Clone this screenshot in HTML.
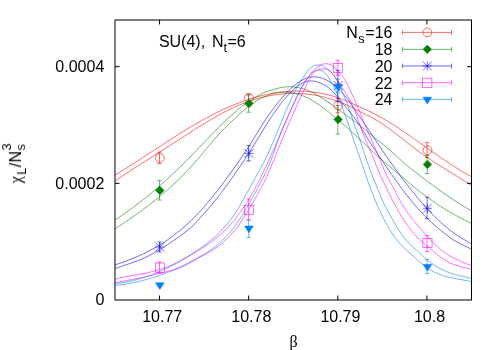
<!DOCTYPE html>
<html><head><meta charset="utf-8"><title>plot</title>
<style>
html,body{margin:0;padding:0;background:#fff;}
svg{display:block;font-family:"Liberation Sans",sans-serif;font-size:16px;fill:#000;}
.cv path{fill:none;stroke-width:0.58;}
.mk *{stroke-width:0.58;}
</style></head><body>
<svg width="500" height="350" viewBox="0 0 500 350">
<rect width="500" height="350" fill="#fff"/>
<defs><clipPath id="cp"><rect x="115.0" y="20.0" width="356.5" height="280.0"/></clipPath></defs>
<g class="cv" clip-path="url(#cp)">
<path d="M115.0,174.99 L116.5,174.09 L118.0,173.19 L119.5,172.28 L121.0,171.37 L122.5,170.45 L124.0,169.52 L125.5,168.59 L127.0,167.65 L128.5,166.71 L130.0,165.77 L131.5,164.82 L133.0,163.86 L134.5,162.90 L136.0,161.94 L137.5,160.98 L139.0,160.01 L140.5,159.04 L142.0,158.07 L143.5,157.10 L145.0,156.12 L146.5,155.15 L148.0,154.17 L149.5,153.19 L151.0,152.21 L152.5,151.23 L154.0,150.25 L155.5,149.27 L157.0,148.29 L158.5,147.31 L160.0,146.33 L161.5,145.35 L163.0,144.38 L164.5,143.40 L166.0,142.43 L167.5,141.46 L169.0,140.49 L170.5,139.53 L172.0,138.57 L173.5,137.61 L175.0,136.65 L176.5,135.70 L178.0,134.75 L179.5,133.81 L181.0,132.87 L182.5,131.94 L184.0,131.01 L185.5,130.09 L187.0,129.17 L188.5,128.26 L190.0,127.35 L191.5,126.45 L193.0,125.56 L194.5,124.68 L196.0,123.80 L197.5,122.93 L199.0,122.07 L200.5,121.21 L202.0,120.37 L203.5,119.53 L205.0,118.70 L206.5,117.88 L208.0,117.07 L209.5,116.27 L211.0,115.48 L212.5,114.70 L214.0,113.93 L215.5,113.17 L217.0,112.42 L218.5,111.69 L220.0,110.96 L221.5,110.25 L223.0,109.54 L224.5,108.85 L226.0,108.17 L227.5,107.50 L229.0,106.85 L230.5,106.20 L232.0,105.57 L233.5,104.95 L235.0,104.34 L236.5,103.74 L238.0,103.16 L239.5,102.59 L241.0,102.03 L242.5,101.48 L244.0,100.95 L245.5,100.43 L247.0,99.92 L248.5,99.42 L250.0,98.94 L251.5,98.47 L253.0,98.02 L254.5,97.57 L256.0,97.15 L257.5,96.73 L259.0,96.33 L260.5,95.94 L262.0,95.57 L263.5,95.21 L265.0,94.87 L266.5,94.54 L268.0,94.22 L269.5,93.92 L271.0,93.63 L272.5,93.36 L274.0,93.10 L275.5,92.86 L277.0,92.63 L278.5,92.42 L280.0,92.22 L281.5,92.04 L283.0,91.87 L284.5,91.72 L286.0,91.59 L287.5,91.47 L289.0,91.36 L290.5,91.28 L292.0,91.21 L293.5,91.15 L295.0,91.12 L296.5,91.10 L298.0,91.09 L299.5,91.11 L301.0,91.14 L302.5,91.19 L304.0,91.25 L305.5,91.34 L307.0,91.44 L308.5,91.56 L310.0,91.69 L311.5,91.85 L313.0,92.02 L314.5,92.22 L316.0,92.43 L317.5,92.66 L319.0,92.91 L320.5,93.18 L322.0,93.46 L323.5,93.77 L325.0,94.10 L326.5,94.45 L328.0,94.81 L329.5,95.20 L331.0,95.60 L332.5,96.03 L334.0,96.48 L335.5,96.95 L337.0,97.43 L338.5,97.94 L340.0,98.47 L341.5,99.02 L343.0,99.59 L344.5,100.18 L346.0,100.79 L347.5,101.41 L349.0,102.04 L350.5,102.69 L352.0,103.35 L353.5,104.01 L355.0,104.69 L356.5,105.37 L358.0,106.06 L359.5,106.74 L361.0,107.43 L362.5,108.13 L364.0,108.82 L365.5,109.53 L367.0,110.23 L368.5,110.95 L370.0,111.67 L371.5,112.40 L373.0,113.15 L374.5,113.90 L376.0,114.67 L377.5,115.46 L379.0,116.26 L380.5,117.08 L382.0,117.91 L383.5,118.76 L385.0,119.63 L386.5,120.52 L388.0,121.42 L389.5,122.34 L391.0,123.27 L392.5,124.21 L394.0,125.16 L395.5,126.13 L397.0,127.11 L398.5,128.10 L400.0,129.09 L401.5,130.10 L403.0,131.12 L404.5,132.14 L406.0,133.17 L407.5,134.20 L409.0,135.24 L410.5,136.29 L412.0,137.34 L413.5,138.40 L415.0,139.45 L416.5,140.51 L418.0,141.58 L419.5,142.64 L421.0,143.70 L422.5,144.77 L424.0,145.84 L425.5,146.90 L427.0,147.97 L428.5,149.03 L430.0,150.09 L431.5,151.15 L433.0,152.21 L434.5,153.26 L436.0,154.31 L437.5,155.35 L439.0,156.39 L440.5,157.42 L442.0,158.45 L443.5,159.47 L445.0,160.49 L446.5,161.49 L448.0,162.49 L449.5,163.48 L451.0,164.46 L452.5,165.43 L454.0,166.40 L455.5,167.35 L457.0,168.29 L458.5,169.21 L460.0,170.13 L461.5,171.03 L463.0,171.92 L464.5,172.80 L466.0,173.66 L467.5,174.51 L469.0,175.34 L470.5,176.16 L471.5,176.69" stroke="#ff0000"/>
<path d="M115.0,180.99 L116.5,179.98 L118.0,178.97 L119.5,177.97 L121.0,176.97 L122.5,175.97 L124.0,174.98 L125.5,173.99 L127.0,173.01 L128.5,172.02 L130.0,171.04 L131.5,170.07 L133.0,169.09 L134.5,168.12 L136.0,167.15 L137.5,166.18 L139.0,165.21 L140.5,164.25 L142.0,163.28 L143.5,162.32 L145.0,161.36 L146.5,160.40 L148.0,159.44 L149.5,158.49 L151.0,157.53 L152.5,156.57 L154.0,155.62 L155.5,154.66 L157.0,153.71 L158.5,152.75 L160.0,151.79 L161.5,150.84 L163.0,149.88 L164.5,148.92 L166.0,147.97 L167.5,147.01 L169.0,146.05 L170.5,145.08 L172.0,144.12 L173.5,143.16 L175.0,142.19 L176.5,141.22 L178.0,140.25 L179.5,139.28 L181.0,138.31 L182.5,137.34 L184.0,136.37 L185.5,135.40 L187.0,134.43 L188.5,133.46 L190.0,132.50 L191.5,131.53 L193.0,130.58 L194.5,129.62 L196.0,128.67 L197.5,127.72 L199.0,126.78 L200.5,125.85 L202.0,124.92 L203.5,123.99 L205.0,123.08 L206.5,122.17 L208.0,121.27 L209.5,120.37 L211.0,119.49 L212.5,118.62 L214.0,117.75 L215.5,116.90 L217.0,116.05 L218.5,115.22 L220.0,114.40 L221.5,113.59 L223.0,112.79 L224.5,112.01 L226.0,111.24 L227.5,110.48 L229.0,109.74 L230.5,109.01 L232.0,108.30 L233.5,107.60 L235.0,106.92 L236.5,106.26 L238.0,105.61 L239.5,104.98 L241.0,104.36 L242.5,103.76 L244.0,103.18 L245.5,102.61 L247.0,102.06 L248.5,101.53 L250.0,101.01 L251.5,100.51 L253.0,100.03 L254.5,99.56 L256.0,99.11 L257.5,98.68 L259.0,98.26 L260.5,97.86 L262.0,97.48 L263.5,97.11 L265.0,96.76 L266.5,96.43 L268.0,96.12 L269.5,95.82 L271.0,95.54 L272.5,95.27 L274.0,95.03 L275.5,94.80 L277.0,94.59 L278.5,94.40 L280.0,94.22 L281.5,94.06 L283.0,93.92 L284.5,93.79 L286.0,93.69 L287.5,93.60 L289.0,93.53 L290.5,93.48 L292.0,93.44 L293.5,93.43 L295.0,93.43 L296.5,93.44 L298.0,93.48 L299.5,93.54 L301.0,93.61 L302.5,93.70 L304.0,93.81 L305.5,93.94 L307.0,94.09 L308.5,94.25 L310.0,94.44 L311.5,94.64 L313.0,94.87 L314.5,95.11 L316.0,95.37 L317.5,95.65 L319.0,95.95 L320.5,96.26 L322.0,96.60 L323.5,96.96 L325.0,97.34 L326.5,97.73 L328.0,98.15 L329.5,98.58 L331.0,99.04 L332.5,99.51 L334.0,100.01 L335.5,100.52 L337.0,101.06 L338.5,101.62 L340.0,102.19 L341.5,102.79 L343.0,103.41 L344.5,104.04 L346.0,104.70 L347.5,105.38 L349.0,106.08 L350.5,106.80 L352.0,107.54 L353.5,108.30 L355.0,109.08 L356.5,109.86 L358.0,110.64 L359.5,111.41 L361.0,112.16 L362.5,112.89 L364.0,113.62 L365.5,114.35 L367.0,115.08 L368.5,115.82 L370.0,116.57 L371.5,117.35 L373.0,118.15 L374.5,118.98 L376.0,119.83 L377.5,120.71 L379.0,121.63 L380.5,122.57 L382.0,123.54 L383.5,124.55 L385.0,125.58 L386.5,126.63 L388.0,127.71 L389.5,128.81 L391.0,129.93 L392.5,131.06 L394.0,132.21 L395.5,133.37 L397.0,134.54 L398.5,135.72 L400.0,136.91 L401.5,138.10 L403.0,139.29 L404.5,140.48 L406.0,141.67 L407.5,142.85 L409.0,144.03 L410.5,145.20 L412.0,146.35 L413.5,147.50 L415.0,148.64 L416.5,149.77 L418.0,150.88 L419.5,151.99 L421.0,153.08 L422.5,154.16 L424.0,155.23 L425.5,156.29 L427.0,157.33 L428.5,158.36 L430.0,159.38 L431.5,160.39 L433.0,161.38 L434.5,162.36 L436.0,163.33 L437.5,164.28 L439.0,165.22 L440.5,166.15 L442.0,167.08 L443.5,167.99 L445.0,168.90 L446.5,169.81 L448.0,170.72 L449.5,171.62 L451.0,172.52 L452.5,173.43 L454.0,174.34 L455.5,175.25 L457.0,176.17 L458.5,177.10 L460.0,178.04 L461.5,178.99 L463.0,179.95 L464.5,180.92 L466.0,181.91 L467.5,182.92 L469.0,183.94 L470.5,184.98 L471.5,185.69" stroke="#ff0000"/>
<path d="M115.0,220.00 L116.5,219.03 L118.0,218.05 L119.5,217.05 L121.0,216.04 L122.5,215.02 L124.0,213.98 L125.5,212.94 L127.0,211.88 L128.5,210.81 L130.0,209.72 L131.5,208.63 L133.0,207.52 L134.5,206.40 L136.0,205.27 L137.5,204.13 L139.0,202.97 L140.5,201.80 L142.0,200.63 L143.5,199.44 L145.0,198.23 L146.5,197.02 L148.0,195.80 L149.5,194.56 L151.0,193.31 L152.5,192.05 L154.0,190.78 L155.5,189.50 L157.0,188.21 L158.5,186.90 L160.0,185.59 L161.5,184.26 L163.0,182.92 L164.5,181.57 L166.0,180.21 L167.5,178.84 L169.0,177.46 L170.5,176.07 L172.0,174.67 L173.5,173.25 L175.0,171.83 L176.5,170.39 L178.0,168.95 L179.5,167.49 L181.0,166.03 L182.5,164.55 L184.0,163.06 L185.5,161.56 L187.0,160.06 L188.5,158.54 L190.0,157.01 L191.5,155.47 L193.0,153.93 L194.5,152.38 L196.0,150.83 L197.5,149.27 L199.0,147.71 L200.5,146.15 L202.0,144.59 L203.5,143.03 L205.0,141.46 L206.5,139.91 L208.0,138.35 L209.5,136.80 L211.0,135.25 L212.5,133.72 L214.0,132.19 L215.5,130.66 L217.0,129.15 L218.5,127.65 L220.0,126.16 L221.5,124.68 L223.0,123.22 L224.5,121.77 L226.0,120.34 L227.5,118.93 L229.0,117.53 L230.5,116.15 L232.0,114.80 L233.5,113.46 L235.0,112.15 L236.5,110.86 L238.0,109.59 L239.5,108.35 L241.0,107.14 L242.5,105.95 L244.0,104.80 L245.5,103.67 L247.0,102.58 L248.5,101.51 L250.0,100.48 L251.5,99.49 L253.0,98.53 L254.5,97.61 L256.0,96.72 L257.5,95.88 L259.0,95.08 L260.5,94.32 L262.0,93.61 L263.5,92.94 L265.0,92.32 L266.5,91.75 L268.0,91.22 L269.5,90.72 L271.0,90.24 L272.5,89.79 L274.0,89.35 L275.5,88.92 L277.0,88.49 L278.5,88.09 L280.0,87.73 L281.5,87.43 L283.0,87.19 L284.5,87.00 L286.0,86.87 L287.5,86.80 L289.0,86.77 L290.5,86.80 L292.0,86.87 L293.5,86.98 L295.0,87.14 L296.5,87.34 L298.0,87.58 L299.5,87.87 L301.0,88.20 L302.5,88.58 L304.0,89.02 L305.5,89.51 L307.0,90.06 L308.5,90.66 L310.0,91.31 L311.5,92.00 L313.0,92.74 L314.5,93.52 L316.0,94.35 L317.5,95.20 L319.0,96.09 L320.5,97.02 L322.0,97.97 L323.5,98.95 L325.0,99.95 L326.5,100.97 L328.0,102.01 L329.5,103.06 L331.0,104.13 L332.5,105.21 L334.0,106.30 L335.5,107.39 L337.0,108.49 L338.5,109.58 L340.0,110.67 L341.5,111.76 L343.0,112.85 L344.5,113.93 L346.0,115.01 L347.5,116.10 L349.0,117.19 L350.5,118.29 L352.0,119.40 L353.5,120.52 L355.0,121.65 L356.5,122.79 L358.0,123.95 L359.5,125.13 L361.0,126.33 L362.5,127.55 L364.0,128.79 L365.5,130.04 L367.0,131.29 L368.5,132.55 L370.0,133.81 L371.5,135.07 L373.0,136.33 L374.5,137.58 L376.0,138.81 L377.5,140.03 L379.0,141.24 L380.5,142.43 L382.0,143.62 L383.5,144.82 L385.0,146.03 L386.5,147.26 L388.0,148.51 L389.5,149.79 L391.0,151.11 L392.5,152.46 L394.0,153.83 L395.5,155.22 L397.0,156.61 L398.5,157.99 L400.0,159.36 L401.5,160.70 L403.0,162.01 L404.5,163.29 L406.0,164.56 L407.5,165.80 L409.0,167.03 L410.5,168.23 L412.0,169.43 L413.5,170.61 L415.0,171.77 L416.5,172.93 L418.0,174.09 L419.5,175.23 L421.0,176.38 L422.5,177.52 L424.0,178.66 L425.5,179.79 L427.0,180.92 L428.5,182.04 L430.0,183.16 L431.5,184.28 L433.0,185.39 L434.5,186.49 L436.0,187.59 L437.5,188.68 L439.0,189.76 L440.5,190.84 L442.0,191.91 L443.5,192.97 L445.0,194.02 L446.5,195.06 L448.0,196.10 L449.5,197.12 L451.0,198.13 L452.5,199.14 L454.0,200.13 L455.5,201.11 L457.0,202.08 L458.5,203.04 L460.0,203.99 L461.5,204.92 L463.0,205.84 L464.5,206.75 L466.0,207.64 L467.5,208.52 L469.0,209.39 L470.5,210.24 L471.5,210.80" stroke="#008000"/>
<path d="M115.0,228.91 L116.5,227.91 L118.0,226.91 L119.5,225.90 L121.0,224.89 L122.5,223.88 L124.0,222.86 L125.5,221.84 L127.0,220.82 L128.5,219.79 L130.0,218.75 L131.5,217.71 L133.0,216.67 L134.5,215.61 L136.0,214.55 L137.5,213.48 L139.0,212.41 L140.5,211.32 L142.0,210.23 L143.5,209.12 L145.0,208.01 L146.5,206.89 L148.0,205.76 L149.5,204.61 L151.0,203.45 L152.5,202.29 L154.0,201.10 L155.5,199.91 L157.0,198.70 L158.5,197.48 L160.0,196.25 L161.5,195.00 L163.0,193.73 L164.5,192.45 L166.0,191.15 L167.5,189.84 L169.0,188.51 L170.5,187.16 L172.0,185.80 L173.5,184.41 L175.0,183.01 L176.5,181.59 L178.0,180.15 L179.5,178.69 L181.0,177.21 L182.5,175.70 L184.0,174.18 L185.5,172.64 L187.0,171.07 L188.5,169.48 L190.0,167.86 L191.5,166.23 L193.0,164.57 L194.5,162.88 L196.0,161.17 L197.5,159.44 L199.0,157.68 L200.5,155.90 L202.0,154.10 L203.5,152.30 L205.0,150.49 L206.5,148.68 L208.0,146.88 L209.5,145.08 L211.0,143.30 L212.5,141.54 L214.0,139.80 L215.5,138.09 L217.0,136.41 L218.5,134.76 L220.0,133.13 L221.5,131.54 L223.0,129.97 L224.5,128.42 L226.0,126.90 L227.5,125.39 L229.0,123.91 L230.5,122.45 L232.0,121.01 L233.5,119.58 L235.0,118.17 L236.5,116.78 L238.0,115.41 L239.5,114.06 L241.0,112.74 L242.5,111.44 L244.0,110.17 L245.5,108.93 L247.0,107.72 L248.5,106.54 L250.0,105.40 L251.5,104.30 L253.0,103.24 L254.5,102.21 L256.0,101.23 L257.5,100.30 L259.0,99.41 L260.5,98.57 L262.0,97.78 L263.5,97.04 L265.0,96.35 L266.5,95.72 L268.0,95.14 L269.5,94.61 L271.0,94.14 L272.5,93.71 L274.0,93.34 L275.5,93.02 L277.0,92.75 L278.5,92.53 L280.0,92.36 L281.5,92.25 L283.0,92.18 L284.5,92.16 L286.0,92.19 L287.5,92.27 L289.0,92.40 L290.5,92.57 L292.0,92.80 L293.5,93.07 L295.0,93.39 L296.5,93.76 L298.0,94.18 L299.5,94.64 L301.0,95.15 L302.5,95.70 L304.0,96.30 L305.5,96.95 L307.0,97.64 L308.5,98.38 L310.0,99.16 L311.5,99.99 L313.0,100.86 L314.5,101.77 L316.0,102.72 L317.5,103.72 L319.0,104.74 L320.5,105.80 L322.0,106.90 L323.5,108.01 L325.0,109.16 L326.5,110.32 L328.0,111.51 L329.5,112.70 L331.0,113.91 L332.5,115.13 L334.0,116.37 L335.5,117.61 L337.0,118.86 L338.5,120.13 L340.0,121.41 L341.5,122.70 L343.0,124.00 L344.5,125.31 L346.0,126.64 L347.5,127.98 L349.0,129.33 L350.5,130.69 L352.0,132.07 L353.5,133.46 L355.0,134.86 L356.5,136.26 L358.0,137.68 L359.5,139.09 L361.0,140.52 L362.5,141.94 L364.0,143.36 L365.5,144.79 L367.0,146.21 L368.5,147.63 L370.0,149.04 L371.5,150.44 L373.0,151.84 L374.5,153.23 L376.0,154.60 L377.5,155.97 L379.0,157.32 L380.5,158.65 L382.0,159.97 L383.5,161.27 L385.0,162.57 L386.5,163.85 L388.0,165.12 L389.5,166.38 L391.0,167.64 L392.5,168.89 L394.0,170.14 L395.5,171.39 L397.0,172.65 L398.5,173.90 L400.0,175.16 L401.5,176.42 L403.0,177.69 L404.5,178.96 L406.0,180.23 L407.5,181.49 L409.0,182.75 L410.5,184.01 L412.0,185.26 L413.5,186.50 L415.0,187.73 L416.5,188.95 L418.0,190.16 L419.5,191.35 L421.0,192.52 L422.5,193.68 L424.0,194.83 L425.5,195.96 L427.0,197.07 L428.5,198.16 L430.0,199.24 L431.5,200.31 L433.0,201.36 L434.5,202.39 L436.0,203.41 L437.5,204.41 L439.0,205.40 L440.5,206.37 L442.0,207.32 L443.5,208.27 L445.0,209.19 L446.5,210.11 L448.0,211.01 L449.5,211.89 L451.0,212.76 L452.5,213.61 L454.0,214.46 L455.5,215.28 L457.0,216.10 L458.5,216.90 L460.0,217.68 L461.5,218.46 L463.0,219.22 L464.5,219.96 L466.0,220.70 L467.5,221.42 L469.0,222.12 L470.5,222.82 L471.5,223.27" stroke="#008000"/>
<path d="M115.0,264.91 L116.5,264.42 L118.0,263.92 L119.5,263.41 L121.0,262.89 L122.5,262.36 L124.0,261.83 L125.5,261.28 L127.0,260.72 L128.5,260.15 L130.0,259.57 L131.5,258.97 L133.0,258.37 L134.5,257.74 L136.0,257.11 L137.5,256.46 L139.0,255.80 L140.5,255.12 L142.0,254.43 L143.5,253.72 L145.0,252.99 L146.5,252.25 L148.0,251.49 L149.5,250.71 L151.0,249.92 L152.5,249.11 L154.0,248.27 L155.5,247.42 L157.0,246.55 L158.5,245.66 L160.0,244.75 L161.5,243.81 L163.0,242.86 L164.5,241.88 L166.0,240.88 L167.5,239.86 L169.0,238.81 L170.5,237.75 L172.0,236.65 L173.5,235.53 L175.0,234.39 L176.5,233.22 L178.0,232.03 L179.5,230.81 L181.0,229.56 L182.5,228.29 L184.0,226.99 L185.5,225.66 L187.0,224.31 L188.5,222.93 L190.0,221.52 L191.5,220.08 L193.0,218.61 L194.5,217.12 L196.0,215.59 L197.5,214.03 L199.0,212.45 L200.5,210.83 L202.0,209.19 L203.5,207.51 L205.0,205.80 L206.5,204.07 L208.0,202.30 L209.5,200.50 L211.0,198.67 L212.5,196.82 L214.0,194.95 L215.5,193.05 L217.0,191.13 L218.5,189.19 L220.0,187.22 L221.5,185.24 L223.0,183.25 L224.5,181.23 L226.0,179.21 L227.5,177.17 L229.0,175.12 L230.5,173.05 L232.0,170.98 L233.5,168.89 L235.0,166.79 L236.5,164.67 L238.0,162.53 L239.5,160.38 L241.0,158.20 L242.5,156.00 L244.0,153.77 L245.5,151.52 L247.0,149.25 L248.5,146.94 L250.0,144.60 L251.5,142.23 L253.0,139.83 L254.5,137.40 L256.0,134.94 L257.5,132.47 L259.0,130.01 L260.5,127.55 L262.0,125.13 L263.5,122.74 L265.0,120.39 L266.5,118.11 L268.0,115.91 L269.5,113.78 L271.0,111.73 L272.5,109.73 L274.0,107.78 L275.5,105.85 L277.0,103.96 L278.5,102.10 L280.0,100.29 L281.5,98.51 L283.0,96.78 L284.5,95.10 L286.0,93.47 L287.5,91.89 L289.0,90.37 L290.5,88.92 L292.0,87.53 L293.5,86.21 L295.0,84.97 L296.5,83.79 L298.0,82.70 L299.5,81.69 L301.0,80.77 L302.5,79.93 L304.0,79.19 L305.5,78.55 L307.0,78.00 L308.5,77.55 L310.0,77.21 L311.5,76.98 L313.0,76.84 L314.5,76.81 L316.0,76.88 L317.5,77.04 L319.0,77.30 L320.5,77.66 L322.0,78.11 L323.5,78.65 L325.0,79.28 L326.5,80.01 L328.0,80.82 L329.5,81.72 L331.0,82.71 L332.5,83.79 L334.0,84.94 L335.5,86.18 L337.0,87.50 L338.5,88.91 L340.0,90.39 L341.5,91.94 L343.0,93.58 L344.5,95.29 L346.0,97.08 L347.5,99.01 L349.0,101.11 L350.5,103.38 L352.0,105.69 L353.5,107.90 L355.0,109.98 L356.5,112.03 L358.0,114.12 L359.5,116.25 L361.0,118.41 L362.5,120.60 L364.0,122.82 L365.5,125.06 L367.0,127.32 L368.5,129.59 L370.0,131.87 L371.5,134.15 L373.0,136.43 L374.5,138.71 L376.0,140.98 L377.5,143.24 L379.0,145.48 L380.5,147.71 L382.0,149.93 L383.5,152.14 L385.0,154.33 L386.5,156.50 L388.0,158.66 L389.5,160.81 L391.0,162.94 L392.5,165.06 L394.0,167.16 L395.5,169.24 L397.0,171.31 L398.5,173.35 L400.0,175.39 L401.5,177.40 L403.0,179.40 L404.5,181.37 L406.0,183.33 L407.5,185.27 L409.0,187.19 L410.5,189.09 L412.0,190.96 L413.5,192.82 L415.0,194.66 L416.5,196.47 L418.0,198.27 L419.5,200.04 L421.0,201.79 L422.5,203.51 L424.0,205.22 L425.5,206.90 L427.0,208.55 L428.5,210.18 L430.0,211.79 L431.5,213.36 L433.0,214.91 L434.5,216.44 L436.0,217.93 L437.5,219.39 L439.0,220.82 L440.5,222.21 L442.0,223.58 L443.5,224.91 L445.0,226.20 L446.5,227.46 L448.0,228.68 L449.5,229.87 L451.0,231.01 L452.5,232.11 L454.0,233.18 L455.5,234.20 L457.0,235.19 L458.5,236.14 L460.0,237.07 L461.5,237.98 L463.0,238.89 L464.5,239.79 L466.0,240.71 L467.5,241.64 L469.0,242.60 L470.5,243.59 L471.5,244.28" stroke="#0000ff"/>
<path d="M115.0,268.46 L116.5,267.97 L118.0,267.48 L119.5,266.99 L121.0,266.50 L122.5,266.01 L124.0,265.51 L125.5,265.01 L127.0,264.51 L128.5,264.00 L130.0,263.48 L131.5,262.95 L133.0,262.41 L134.5,261.86 L136.0,261.30 L137.5,260.72 L139.0,260.12 L140.5,259.51 L142.0,258.88 L143.5,258.23 L145.0,257.56 L146.5,256.86 L148.0,256.15 L149.5,255.40 L151.0,254.63 L152.5,253.84 L154.0,253.02 L155.5,252.18 L157.0,251.31 L158.5,250.42 L160.0,249.51 L161.5,248.59 L163.0,247.64 L164.5,246.68 L166.0,245.70 L167.5,244.71 L169.0,243.70 L170.5,242.69 L172.0,241.66 L173.5,240.62 L175.0,239.57 L176.5,238.52 L178.0,237.45 L179.5,236.39 L181.0,235.32 L182.5,234.23 L184.0,233.13 L185.5,232.00 L187.0,230.82 L188.5,229.60 L190.0,228.32 L191.5,226.97 L193.0,225.54 L194.5,224.02 L196.0,222.42 L197.5,220.77 L199.0,219.09 L200.5,217.40 L202.0,215.72 L203.5,214.03 L205.0,212.35 L206.5,210.65 L208.0,208.95 L209.5,207.23 L211.0,205.49 L212.5,203.73 L214.0,201.94 L215.5,200.12 L217.0,198.27 L218.5,196.38 L220.0,194.44 L221.5,192.46 L223.0,190.45 L224.5,188.42 L226.0,186.38 L227.5,184.32 L229.0,182.25 L230.5,180.17 L232.0,178.07 L233.5,175.95 L235.0,173.82 L236.5,171.66 L238.0,169.49 L239.5,167.30 L241.0,165.08 L242.5,162.85 L244.0,160.59 L245.5,158.31 L247.0,156.00 L248.5,153.67 L250.0,151.31 L251.5,148.92 L253.0,146.52 L254.5,144.09 L256.0,141.66 L257.5,139.21 L259.0,136.76 L260.5,134.32 L262.0,131.88 L263.5,129.44 L265.0,127.03 L266.5,124.63 L268.0,122.26 L269.5,119.92 L271.0,117.61 L272.5,115.34 L274.0,113.12 L275.5,110.94 L277.0,108.82 L278.5,106.77 L280.0,104.77 L281.5,102.85 L283.0,101.00 L284.5,99.21 L286.0,97.47 L287.5,95.79 L289.0,94.16 L290.5,92.57 L292.0,91.05 L293.5,89.60 L295.0,88.23 L296.5,86.96 L298.0,85.79 L299.5,84.73 L301.0,83.81 L302.5,83.01 L304.0,82.33 L305.5,81.79 L307.0,81.38 L308.5,81.09 L310.0,80.94 L311.5,80.91 L313.0,81.01 L314.5,81.23 L316.0,81.57 L317.5,82.00 L319.0,82.53 L320.5,83.12 L322.0,83.78 L323.5,84.52 L325.0,85.36 L326.5,86.30 L328.0,87.37 L329.5,88.57 L331.0,89.90 L332.5,91.34 L334.0,92.89 L335.5,94.52 L337.0,96.22 L338.5,97.98 L340.0,99.78 L341.5,101.62 L343.0,103.49 L344.5,105.37 L346.0,107.25 L347.5,109.14 L349.0,111.01 L350.5,112.86 L352.0,114.71 L353.5,116.59 L355.0,118.54 L356.5,120.58 L358.0,122.75 L359.5,125.04 L361.0,127.43 L362.5,129.89 L364.0,132.39 L365.5,134.91 L367.0,137.41 L368.5,139.87 L370.0,142.26 L371.5,144.61 L373.0,146.91 L374.5,149.18 L376.0,151.45 L377.5,153.71 L379.0,155.96 L380.5,158.20 L382.0,160.44 L383.5,162.66 L385.0,164.87 L386.5,167.07 L388.0,169.26 L389.5,171.43 L391.0,173.59 L392.5,175.73 L394.0,177.86 L395.5,179.96 L397.0,182.05 L398.5,184.11 L400.0,186.16 L401.5,188.18 L403.0,190.18 L404.5,192.15 L406.0,194.10 L407.5,196.02 L409.0,197.92 L410.5,199.78 L412.0,201.62 L413.5,203.42 L415.0,205.20 L416.5,206.94 L418.0,208.65 L419.5,210.32 L421.0,211.96 L422.5,213.56 L424.0,215.13 L425.5,216.65 L427.0,218.14 L428.5,219.59 L430.0,221.01 L431.5,222.39 L433.0,223.74 L434.5,225.07 L436.0,226.37 L437.5,227.64 L439.0,228.89 L440.5,230.12 L442.0,231.33 L443.5,232.53 L445.0,233.71 L446.5,234.87 L448.0,236.02 L449.5,237.14 L451.0,238.22 L452.5,239.26 L454.0,240.24 L455.5,241.17 L457.0,242.04 L458.5,242.86 L460.0,243.63 L461.5,244.38 L463.0,245.10 L464.5,245.82 L466.0,246.53 L467.5,247.25 L469.0,247.99 L470.5,248.75 L471.5,249.28" stroke="#0000ff"/>
<path d="M115.0,283.49 L116.5,283.34 L118.0,283.18 L119.5,282.99 L121.0,282.79 L122.5,282.57 L124.0,282.33 L125.5,282.07 L127.0,281.80 L128.5,281.51 L130.0,281.20 L131.5,280.87 L133.0,280.52 L134.5,280.16 L136.0,279.78 L137.5,279.39 L139.0,278.97 L140.5,278.54 L142.0,278.09 L143.5,277.63 L145.0,277.14 L146.5,276.65 L148.0,276.13 L149.5,275.60 L151.0,275.05 L152.5,274.48 L154.0,273.90 L155.5,273.31 L157.0,272.69 L158.5,272.06 L160.0,271.42 L161.5,270.75 L163.0,270.08 L164.5,269.38 L166.0,268.67 L167.5,267.95 L169.0,267.21 L170.5,266.45 L172.0,265.68 L173.5,264.90 L175.0,264.10 L176.5,263.28 L178.0,262.45 L179.5,261.60 L181.0,260.74 L182.5,259.87 L184.0,258.98 L185.5,258.07 L187.0,257.16 L188.5,256.22 L190.0,255.27 L191.5,254.31 L193.0,253.34 L194.5,252.35 L196.0,251.34 L197.5,250.32 L199.0,249.29 L200.5,248.23 L202.0,247.15 L203.5,246.05 L205.0,244.92 L206.5,243.77 L208.0,242.58 L209.5,241.36 L211.0,240.11 L212.5,238.82 L214.0,237.49 L215.5,236.12 L217.0,234.71 L218.5,233.25 L220.0,231.75 L221.5,230.20 L223.0,228.59 L224.5,226.93 L226.0,225.22 L227.5,223.44 L229.0,221.60 L230.5,219.69 L232.0,217.69 L233.5,215.59 L235.0,213.39 L236.5,211.08 L238.0,208.67 L239.5,206.17 L241.0,203.60 L242.5,200.97 L244.0,198.28 L245.5,195.56 L247.0,192.81 L248.5,190.05 L250.0,187.29 L251.5,184.54 L253.0,181.82 L254.5,179.13 L256.0,176.48 L257.5,173.85 L259.0,171.19 L260.5,168.50 L262.0,165.75 L263.5,162.91 L265.0,159.96 L266.5,156.87 L268.0,153.66 L269.5,150.34 L271.0,146.92 L272.5,143.43 L274.0,139.87 L275.5,136.26 L277.0,132.61 L278.5,128.94 L280.0,125.27 L281.5,121.60 L283.0,117.95 L284.5,114.35 L286.0,110.79 L287.5,107.30 L289.0,103.90 L290.5,100.59 L292.0,97.38 L293.5,94.30 L295.0,91.34 L296.5,88.49 L298.0,85.75 L299.5,83.14 L301.0,80.63 L302.5,78.24 L304.0,75.96 L305.5,73.80 L307.0,71.79 L308.5,70.00 L310.0,68.45 L311.5,67.19 L313.0,66.24 L314.5,65.56 L316.0,65.15 L317.5,64.98 L319.0,65.05 L320.5,65.33 L322.0,65.82 L323.5,66.48 L325.0,67.31 L326.5,68.29 L328.0,69.41 L329.5,70.65 L331.0,72.06 L332.5,73.71 L334.0,75.64 L335.5,77.92 L337.0,80.57 L338.5,83.54 L340.0,86.76 L341.5,90.16 L343.0,93.67 L344.5,97.21 L346.0,100.80 L347.5,104.52 L349.0,108.50 L350.5,112.85 L352.0,117.55 L353.5,122.18 L355.0,126.45 L356.5,130.52 L358.0,134.53 L359.5,138.65 L361.0,143.03 L362.5,147.63 L364.0,152.29 L365.5,156.86 L367.0,161.24 L368.5,165.45 L370.0,169.52 L371.5,173.46 L373.0,177.32 L374.5,181.10 L376.0,184.85 L377.5,188.58 L379.0,192.29 L380.5,195.91 L382.0,199.39 L383.5,202.67 L385.0,205.76 L386.5,208.69 L388.0,211.50 L389.5,214.21 L391.0,216.85 L392.5,219.46 L394.0,222.05 L395.5,224.62 L397.0,227.13 L398.5,229.56 L400.0,231.90 L401.5,234.11 L403.0,236.18 L404.5,238.11 L406.0,239.92 L407.5,241.61 L409.0,243.21 L410.5,244.72 L412.0,246.16 L413.5,247.55 L415.0,248.91 L416.5,250.24 L418.0,251.56 L419.5,252.89 L421.0,254.23 L422.5,255.59 L424.0,256.95 L425.5,258.28 L427.0,259.57 L428.5,260.81 L430.0,261.99 L431.5,263.11 L433.0,264.18 L434.5,265.19 L436.0,266.16 L437.5,267.07 L439.0,267.94 L440.5,268.75 L442.0,269.53 L443.5,270.26 L445.0,270.94 L446.5,271.59 L448.0,272.20 L449.5,272.76 L451.0,273.30 L452.5,273.79 L454.0,274.26 L455.5,274.69 L457.0,275.09 L458.5,275.47 L460.0,275.83 L461.5,276.18 L463.0,276.52 L464.5,276.87 L466.0,277.21 L467.5,277.57 L469.0,277.94 L470.5,278.33 L471.5,278.60" stroke="#0080ff"/>
<path d="M115.0,285.55 L116.5,285.36 L118.0,285.16 L119.5,284.95 L121.0,284.74 L122.5,284.51 L124.0,284.28 L125.5,284.03 L127.0,283.78 L128.5,283.51 L130.0,283.24 L131.5,282.96 L133.0,282.66 L134.5,282.36 L136.0,282.04 L137.5,281.71 L139.0,281.38 L140.5,281.02 L142.0,280.66 L143.5,280.29 L145.0,279.90 L146.5,279.50 L148.0,279.09 L149.5,278.67 L151.0,278.23 L152.5,277.78 L154.0,277.31 L155.5,276.83 L157.0,276.34 L158.5,275.83 L160.0,275.31 L161.5,274.78 L163.0,274.23 L164.5,273.66 L166.0,273.08 L167.5,272.48 L169.0,271.87 L170.5,271.25 L172.0,270.61 L173.5,269.95 L175.0,269.29 L176.5,268.61 L178.0,267.92 L179.5,267.21 L181.0,266.50 L182.5,265.77 L184.0,265.03 L185.5,264.29 L187.0,263.53 L188.5,262.76 L190.0,261.98 L191.5,261.20 L193.0,260.40 L194.5,259.60 L196.0,258.79 L197.5,257.97 L199.0,257.14 L200.5,256.29 L202.0,255.43 L203.5,254.54 L205.0,253.63 L206.5,252.69 L208.0,251.72 L209.5,250.72 L211.0,249.68 L212.5,248.61 L214.0,247.49 L215.5,246.33 L217.0,245.12 L218.5,243.86 L220.0,242.54 L221.5,241.17 L223.0,239.75 L224.5,238.26 L226.0,236.70 L227.5,235.08 L229.0,233.38 L230.5,231.62 L232.0,229.77 L233.5,227.85 L235.0,225.85 L236.5,223.77 L238.0,221.63 L239.5,219.42 L241.0,217.14 L242.5,214.80 L244.0,212.40 L245.5,209.94 L247.0,207.43 L248.5,204.86 L250.0,202.25 L251.5,199.59 L253.0,196.89 L254.5,194.15 L256.0,191.37 L257.5,188.56 L259.0,185.72 L260.5,182.84 L262.0,179.93 L263.5,176.95 L265.0,173.88 L266.5,170.69 L268.0,167.34 L269.5,163.81 L271.0,160.08 L272.5,156.12 L274.0,151.99 L275.5,147.76 L277.0,143.50 L278.5,139.29 L280.0,135.18 L281.5,131.25 L283.0,127.55 L284.5,124.08 L286.0,120.76 L287.5,117.52 L289.0,114.28 L290.5,110.97 L292.0,107.60 L293.5,104.21 L295.0,100.85 L296.5,97.56 L298.0,94.40 L299.5,91.36 L301.0,88.47 L302.5,85.73 L304.0,83.17 L305.5,80.79 L307.0,78.61 L308.5,76.64 L310.0,74.89 L311.5,73.38 L313.0,72.13 L314.5,71.14 L316.0,70.43 L317.5,70.01 L319.0,69.92 L320.5,70.15 L322.0,70.72 L323.5,71.66 L325.0,72.98 L326.5,74.69 L328.0,76.80 L329.5,79.29 L331.0,81.89 L332.5,84.34 L334.0,86.90 L335.5,89.87 L337.0,93.25 L338.5,96.97 L340.0,100.92 L341.5,105.03 L343.0,109.20 L344.5,113.36 L346.0,117.51 L347.5,121.71 L349.0,126.01 L350.5,130.44 L352.0,135.06 L353.5,139.81 L355.0,144.27 L356.5,148.48 L358.0,152.57 L359.5,156.69 L361.0,160.99 L362.5,165.44 L364.0,169.93 L365.5,174.36 L367.0,178.71 L368.5,182.96 L370.0,187.08 L371.5,191.07 L373.0,194.93 L374.5,198.66 L376.0,202.26 L377.5,205.74 L379.0,209.09 L380.5,212.32 L382.0,215.43 L383.5,218.42 L385.0,221.30 L386.5,224.06 L388.0,226.70 L389.5,229.24 L391.0,231.66 L392.5,233.96 L394.0,236.15 L395.5,238.23 L397.0,240.19 L398.5,242.03 L400.0,243.76 L401.5,245.38 L403.0,246.91 L404.5,248.36 L406.0,249.75 L407.5,251.10 L409.0,252.43 L410.5,253.76 L412.0,255.10 L413.5,256.45 L415.0,257.79 L416.5,259.12 L418.0,260.43 L419.5,261.73 L421.0,262.99 L422.5,264.23 L424.0,265.42 L425.5,266.56 L427.0,267.65 L428.5,268.68 L430.0,269.65 L431.5,270.54 L433.0,271.38 L434.5,272.16 L436.0,272.88 L437.5,273.54 L439.0,274.16 L440.5,274.73 L442.0,275.26 L443.5,275.75 L445.0,276.20 L446.5,276.62 L448.0,277.01 L449.5,277.37 L451.0,277.71 L452.5,278.03 L454.0,278.33 L455.5,278.62 L457.0,278.89 L458.5,279.16 L460.0,279.43 L461.5,279.69 L463.0,279.96 L464.5,280.24 L466.0,280.52 L467.5,280.81 L469.0,281.13 L470.5,281.46 L471.5,281.69" stroke="#0080ff"/>
<path d="M115.0,279.29 L116.5,278.89 L118.0,278.50 L119.5,278.13 L121.0,277.78 L122.5,277.45 L124.0,277.12 L125.5,276.81 L127.0,276.51 L128.5,276.22 L130.0,275.94 L131.5,275.66 L133.0,275.39 L134.5,275.12 L136.0,274.85 L137.5,274.58 L139.0,274.31 L140.5,274.04 L142.0,273.76 L143.5,273.48 L145.0,273.19 L146.5,272.89 L148.0,272.57 L149.5,272.25 L151.0,271.91 L152.5,271.56 L154.0,271.19 L155.5,270.80 L157.0,270.39 L158.5,269.97 L160.0,269.51 L161.5,269.04 L163.0,268.53 L164.5,268.00 L166.0,267.45 L167.5,266.86 L169.0,266.24 L170.5,265.60 L172.0,264.94 L173.5,264.25 L175.0,263.53 L176.5,262.80 L178.0,262.05 L179.5,261.27 L181.0,260.48 L182.5,259.67 L184.0,258.85 L185.5,258.01 L187.0,257.16 L188.5,256.30 L190.0,255.43 L191.5,254.54 L193.0,253.65 L194.5,252.76 L196.0,251.85 L197.5,250.94 L199.0,250.02 L200.5,249.09 L202.0,248.15 L203.5,247.19 L205.0,246.21 L206.5,245.21 L208.0,244.18 L209.5,243.13 L211.0,242.05 L212.5,240.95 L214.0,239.81 L215.5,238.63 L217.0,237.42 L218.5,236.17 L220.0,234.87 L221.5,233.54 L223.0,232.15 L224.5,230.72 L226.0,229.23 L227.5,227.70 L229.0,226.10 L230.5,224.45 L232.0,222.74 L233.5,220.97 L235.0,219.13 L236.5,217.24 L238.0,215.28 L239.5,213.26 L241.0,211.18 L242.5,209.03 L244.0,206.81 L245.5,204.53 L247.0,202.19 L248.5,199.77 L250.0,197.29 L251.5,194.74 L253.0,192.12 L254.5,189.43 L256.0,186.67 L257.5,183.84 L259.0,180.94 L260.5,177.97 L262.0,174.92 L263.5,171.81 L265.0,168.64 L266.5,165.42 L268.0,162.14 L269.5,158.82 L271.0,155.47 L272.5,152.08 L274.0,148.66 L275.5,145.22 L277.0,141.76 L278.5,138.29 L280.0,134.81 L281.5,131.33 L283.0,127.85 L284.5,124.39 L286.0,120.94 L287.5,117.51 L289.0,114.10 L290.5,110.73 L292.0,107.40 L293.5,104.12 L295.0,100.91 L296.5,97.78 L298.0,94.74 L299.5,91.80 L301.0,88.98 L302.5,86.30 L304.0,83.74 L305.5,81.32 L307.0,79.04 L308.5,76.88 L310.0,74.86 L311.5,72.98 L313.0,71.24 L314.5,69.67 L316.0,68.26 L317.5,67.02 L319.0,65.96 L320.5,65.09 L322.0,64.42 L323.5,63.96 L325.0,63.70 L326.5,63.67 L328.0,63.86 L329.5,64.30 L331.0,64.98 L332.5,65.91 L334.0,67.08 L335.5,68.46 L337.0,70.00 L338.5,71.67 L340.0,73.42 L341.5,75.23 L343.0,77.17 L344.5,79.34 L346.0,81.83 L347.5,84.63 L349.0,87.67 L350.5,90.86 L352.0,94.13 L353.5,97.42 L355.0,100.75 L356.5,104.18 L358.0,107.71 L359.5,111.34 L361.0,115.01 L362.5,118.71 L364.0,122.40 L365.5,126.06 L367.0,129.65 L368.5,133.14 L370.0,136.53 L371.5,139.86 L373.0,143.19 L374.5,146.57 L376.0,150.04 L377.5,153.64 L379.0,157.33 L380.5,161.08 L382.0,164.84 L383.5,168.48 L385.0,171.86 L386.5,174.97 L388.0,177.88 L389.5,180.67 L391.0,183.41 L392.5,186.18 L394.0,189.05 L395.5,192.01 L397.0,194.98 L398.5,197.89 L400.0,200.69 L401.5,203.32 L403.0,205.79 L404.5,208.14 L406.0,210.36 L407.5,212.49 L409.0,214.54 L410.5,216.52 L412.0,218.46 L413.5,220.36 L415.0,222.23 L416.5,224.08 L418.0,225.89 L419.5,227.67 L421.0,229.43 L422.5,231.17 L424.0,232.88 L425.5,234.56 L427.0,236.22 L428.5,237.86 L430.0,239.47 L431.5,241.04 L433.0,242.58 L434.5,244.06 L436.0,245.50 L437.5,246.88 L439.0,248.20 L440.5,249.45 L442.0,250.64 L443.5,251.75 L445.0,252.79 L446.5,253.78 L448.0,254.72 L449.5,255.61 L451.0,256.47 L452.5,257.30 L454.0,258.10 L455.5,258.87 L457.0,259.61 L458.5,260.32 L460.0,261.02 L461.5,261.69 L463.0,262.33 L464.5,262.96 L466.0,263.58 L467.5,264.17 L469.0,264.76 L470.5,265.32 L471.5,265.70" stroke="#ff00ff"/>
<path d="M115.0,282.50 L116.5,282.28 L118.0,282.05 L119.5,281.82 L121.0,281.57 L122.5,281.32 L124.0,281.06 L125.5,280.80 L127.0,280.53 L128.5,280.25 L130.0,279.96 L131.5,279.67 L133.0,279.38 L134.5,279.08 L136.0,278.77 L137.5,278.46 L139.0,278.14 L140.5,277.82 L142.0,277.50 L143.5,277.17 L145.0,276.83 L146.5,276.50 L148.0,276.16 L149.5,275.81 L151.0,275.47 L152.5,275.12 L154.0,274.76 L155.5,274.41 L157.0,274.05 L158.5,273.69 L160.0,273.33 L161.5,272.97 L163.0,272.60 L164.5,272.23 L166.0,271.87 L167.5,271.50 L169.0,271.12 L170.5,270.73 L172.0,270.32 L173.5,269.90 L175.0,269.44 L176.5,268.97 L178.0,268.45 L179.5,267.91 L181.0,267.32 L182.5,266.68 L184.0,266.00 L185.5,265.26 L187.0,264.48 L188.5,263.65 L190.0,262.79 L191.5,261.92 L193.0,261.04 L194.5,260.16 L196.0,259.30 L197.5,258.46 L199.0,257.64 L200.5,256.82 L202.0,256.01 L203.5,255.19 L205.0,254.37 L206.5,253.55 L208.0,252.70 L209.5,251.85 L211.0,250.96 L212.5,250.05 L214.0,249.11 L215.5,248.13 L217.0,247.11 L218.5,246.05 L220.0,244.93 L221.5,243.76 L223.0,242.53 L224.5,241.24 L226.0,239.88 L227.5,238.45 L229.0,236.93 L230.5,235.34 L232.0,233.66 L233.5,231.89 L235.0,230.02 L236.5,228.06 L238.0,226.00 L239.5,223.86 L241.0,221.65 L242.5,219.36 L244.0,217.02 L245.5,214.63 L247.0,212.20 L248.5,209.74 L250.0,207.25 L251.5,204.74 L253.0,202.23 L254.5,199.70 L256.0,197.13 L257.5,194.52 L259.0,191.85 L260.5,189.10 L262.0,186.25 L263.5,183.30 L265.0,180.22 L266.5,177.01 L268.0,173.70 L269.5,170.29 L271.0,166.80 L272.5,163.24 L274.0,159.62 L275.5,155.96 L277.0,152.28 L278.5,148.57 L280.0,144.87 L281.5,141.17 L283.0,137.50 L284.5,133.87 L286.0,130.29 L287.5,126.77 L289.0,123.30 L290.5,119.88 L292.0,116.48 L293.5,113.11 L295.0,109.75 L296.5,106.41 L298.0,103.08 L299.5,99.79 L301.0,96.52 L302.5,93.29 L304.0,90.11 L305.5,86.97 L307.0,83.89 L308.5,80.87 L310.0,77.99 L311.5,75.46 L313.0,73.46 L314.5,72.00 L316.0,70.95 L317.5,70.19 L319.0,69.64 L320.5,69.24 L322.0,68.95 L323.5,68.83 L325.0,68.92 L326.5,69.26 L328.0,69.89 L329.5,70.87 L331.0,72.15 L332.5,73.71 L334.0,75.50 L335.5,77.49 L337.0,79.64 L338.5,81.89 L340.0,84.19 L341.5,86.49 L343.0,88.75 L344.5,91.04 L346.0,93.39 L347.5,95.85 L349.0,98.46 L350.5,101.28 L352.0,104.35 L353.5,107.73 L355.0,111.44 L356.5,115.51 L358.0,119.74 L359.5,123.96 L361.0,128.10 L362.5,132.11 L364.0,135.97 L365.5,139.66 L367.0,143.18 L368.5,146.60 L370.0,150.04 L371.5,153.58 L373.0,157.23 L374.5,160.96 L376.0,164.77 L377.5,168.54 L379.0,172.14 L380.5,175.54 L382.0,178.78 L383.5,181.92 L385.0,185.00 L386.5,188.07 L388.0,191.15 L389.5,194.21 L391.0,197.25 L392.5,200.23 L394.0,203.13 L395.5,205.96 L397.0,208.70 L398.5,211.37 L400.0,213.95 L401.5,216.44 L403.0,218.85 L404.5,221.18 L406.0,223.41 L407.5,225.56 L409.0,227.61 L410.5,229.57 L412.0,231.44 L413.5,233.22 L415.0,234.89 L416.5,236.48 L418.0,237.97 L419.5,239.41 L421.0,240.78 L422.5,242.12 L424.0,243.44 L425.5,244.75 L427.0,246.06 L428.5,247.36 L430.0,248.65 L431.5,249.94 L433.0,251.20 L434.5,252.44 L436.0,253.65 L437.5,254.83 L439.0,255.98 L440.5,257.08 L442.0,258.14 L443.5,259.15 L445.0,260.11 L446.5,261.01 L448.0,261.84 L449.5,262.61 L451.0,263.31 L452.5,263.94 L454.0,264.51 L455.5,265.02 L457.0,265.50 L458.5,265.95 L460.0,266.37 L461.5,266.77 L463.0,267.17 L464.5,267.57 L466.0,267.98 L467.5,268.41 L469.0,268.87 L470.5,269.36 L471.5,269.71" stroke="#ff00ff"/>
</g>
<g class="mk">
<path d="M159.5,152.2 V163.6 M157.3,152.2 H161.7 M157.3,163.6 H161.7" fill="none" stroke="#ff0000"/>
<circle cx="159.85" cy="158" r="4.4" fill="none" stroke="#ff0000"/>
<path d="M248.6,94.2 V101.5 M246.4,94.2 H250.79999999999998 M246.4,101.5 H250.79999999999998" fill="none" stroke="#ff0000"/>
<circle cx="248.95" cy="97.8" r="4.4" fill="none" stroke="#ff0000"/>
<path d="M337.8,98.5 V112.8 M335.6,98.5 H340.0 M335.6,112.8 H340.0" fill="none" stroke="#ff0000"/>
<circle cx="338.15000000000003" cy="105.5" r="4.4" fill="none" stroke="#ff0000"/>
<path d="M427.1,142.6 V157.6 M424.90000000000003,142.6 H429.3 M424.90000000000003,157.6 H429.3" fill="none" stroke="#ff0000"/>
<circle cx="427.45000000000005" cy="150.2" r="4.4" fill="none" stroke="#ff0000"/>
<path d="M159.5,180.4 V200 M157.3,180.4 H161.7 M157.3,200 H161.7" fill="none" stroke="#008000"/>
<path d="M155.60,190.4 L159.85,186.15 L164.10,190.4 L159.85,194.65 Z" fill="#008000" stroke="#008000" stroke-width="0.4"/>
<path d="M248.6,95.2 V112.2 M246.4,95.2 H250.79999999999998 M246.4,112.2 H250.79999999999998" fill="none" stroke="#008000"/>
<path d="M244.70,103.6 L248.95,99.35 L253.20,103.6 L248.95,107.85 Z" fill="#008000" stroke="#008000" stroke-width="0.4"/>
<path d="M337.8,105.5 V134 M335.6,105.5 H340.0 M335.6,134 H340.0" fill="none" stroke="#008000"/>
<path d="M333.90,119.5 L338.15000000000003,115.25 L342.40,119.5 L338.15000000000003,123.75 Z" fill="#008000" stroke="#008000" stroke-width="0.4"/>
<path d="M427.1,155.6 V173.6 M424.90000000000003,155.6 H429.3 M424.90000000000003,173.6 H429.3" fill="none" stroke="#008000"/>
<path d="M423.20,164.4 L427.45000000000005,160.15 L431.70,164.4 L427.45000000000005,168.65 Z" fill="#008000" stroke="#008000" stroke-width="0.4"/>
<path d="M159.5,242 V252 M157.3,242 H161.7 M157.3,252 H161.7" fill="none" stroke="#0000ff"/>
<path d="M155.35,247 H164.35 M159.85,242.5 V251.5 M155.35,242.5 L164.35,251.5 M155.35,251.5 L164.35,242.5" fill="none" stroke="#0000ff"/>
<path d="M248.6,145.6 V161 M246.4,145.6 H250.79999999999998 M246.4,161 H250.79999999999998" fill="none" stroke="#0000ff"/>
<path d="M244.45,153.4 H253.45 M248.95,148.9 V157.9 M244.45,148.9 L253.45,157.9 M244.45,157.9 L253.45,148.9" fill="none" stroke="#0000ff"/>
<path d="M337.8,70.5 V101.5 M335.6,70.5 H340.0 M335.6,101.5 H340.0" fill="none" stroke="#0000ff"/>
<path d="M333.65000000000003,85.5 H342.65000000000003 M338.15000000000003,81.0 V90.0 M333.65000000000003,81.0 L342.65000000000003,90.0 M333.65000000000003,90.0 L342.65000000000003,81.0" fill="none" stroke="#0000ff"/>
<path d="M427.1,197.2 V218.7 M424.90000000000003,197.2 H429.3 M424.90000000000003,218.7 H429.3" fill="none" stroke="#0000ff"/>
<path d="M422.95000000000005,208.3 H431.95000000000005 M427.45000000000005,203.8 V212.8 M422.95000000000005,203.8 L431.95000000000005,212.8 M422.95000000000005,212.8 L431.95000000000005,203.8" fill="none" stroke="#0000ff"/>
<path d="M159.5,262 V273 M157.3,262 H161.7 M157.3,273 H161.7" fill="none" stroke="#ff00ff"/>
<rect x="155.25" y="263.0" width="9.2" height="9.2" fill="none" stroke="#ff00ff"/>
<path d="M248.6,199 V220 M246.4,199 H250.79999999999998 M246.4,220 H250.79999999999998" fill="none" stroke="#ff00ff"/>
<rect x="244.35" y="205.4" width="9.2" height="9.2" fill="none" stroke="#ff00ff"/>
<path d="M337.8,60.2 V75.4 M335.6,60.2 H340.0 M335.6,75.4 H340.0" fill="none" stroke="#ff00ff"/>
<rect x="333.55" y="63.4" width="9.2" height="9.2" fill="none" stroke="#ff00ff"/>
<path d="M427.1,235.4 V251.6 M424.90000000000003,235.4 H429.3 M424.90000000000003,251.6 H429.3" fill="none" stroke="#ff00ff"/>
<rect x="422.85" y="238.4" width="9.2" height="9.2" fill="none" stroke="#ff00ff"/>
<path d="M159.5,284.2 V285.8 M157.3,284.2 H161.7 M157.3,285.8 H161.7" fill="none" stroke="#0080ff"/>
<path d="M155.55,282.80 L164.15,282.80 L159.85,289.50 Z" fill="#0080ff" stroke="#0080ff" stroke-width="0.4"/>
<path d="M248.6,219.8 V237.4 M246.4,219.8 H250.79999999999998 M246.4,237.4 H250.79999999999998" fill="none" stroke="#0080ff"/>
<path d="M244.65,226.00 L253.25,226.00 L248.95,232.70 Z" fill="#0080ff" stroke="#0080ff" stroke-width="0.4"/>
<path d="M337.8,79.4 V92.6 M335.6,79.4 H340.0 M335.6,92.6 H340.0" fill="none" stroke="#0080ff"/>
<path d="M333.85,84.50 L342.45,84.50 L338.15000000000003,91.20 Z" fill="#0080ff" stroke="#0080ff" stroke-width="0.4"/>
<path d="M427.1,259.4 V273.5 M424.90000000000003,259.4 H429.3 M424.90000000000003,273.5 H429.3" fill="none" stroke="#0080ff"/>
<path d="M423.15,264.40 L431.75,264.40 L427.45000000000005,271.10 Z" fill="#0080ff" stroke="#0080ff" stroke-width="0.4"/>
<path d="M402.6,32.4 H451.5 M402.6,30.0 V34.8 M451.5,30.0 V34.8" fill="none" stroke="#ff0000"/>
<circle cx="427.3" cy="32.4" r="4.4" fill="none" stroke="#ff0000"/>
<path d="M402.6,49.35 H451.5 M402.6,46.95 V51.75 M451.5,46.95 V51.75" fill="none" stroke="#008000"/>
<path d="M423.05,49.35 L427.3,45.10 L431.55,49.35 L427.3,53.60 Z" fill="#008000" stroke="#008000" stroke-width="0.4"/>
<path d="M402.6,66.0 H451.5 M402.6,63.6 V68.4 M451.5,63.6 V68.4" fill="none" stroke="#0000ff"/>
<path d="M422.8,66.0 H431.8 M427.3,61.5 V70.5 M422.8,61.5 L431.8,70.5 M422.8,70.5 L431.8,61.5" fill="none" stroke="#0000ff"/>
<path d="M402.6,82.7 H451.5 M402.6,80.3 V85.10000000000001 M451.5,80.3 V85.10000000000001" fill="none" stroke="#ff00ff"/>
<rect x="422.7" y="78.10000000000001" width="9.2" height="9.2" fill="none" stroke="#ff00ff"/>
<path d="M402.6,99.4 H451.5 M402.6,97.0 V101.80000000000001 M451.5,97.0 V101.80000000000001" fill="none" stroke="#0080ff"/>
<path d="M423.00,97.20 L431.60,97.20 L427.3,103.90 Z" fill="#0080ff" stroke="#0080ff" stroke-width="0.4"/>
</g>
<g>
<rect x="115.0" y="20.0" width="356.5" height="280.0" fill="none" stroke="#000" stroke-width="1"/>
<path d="M159.56,300.0 v-4.5 M159.56,20.0 v4.5 M248.68,300.0 v-4.5 M248.68,20.0 v4.5 M337.80,300.0 v-4.5 M337.80,20.0 v4.5 M426.93,300.0 v-4.5 M426.93,20.0 v4.5 M115.0,183.33 h4.5 M471.5,183.33 h-4.5 M115.0,66.67 h4.5 M471.5,66.67 h-4.5" fill="none" stroke="#000" stroke-width="1"/>
</g>
<g opacity="0.999">
<text x="162.2" y="321.8" text-anchor="middle">10.77</text>
<text x="251.3" y="321.8" text-anchor="middle">10.78</text>
<text x="340.4" y="321.8" text-anchor="middle">10.79</text>
<text x="429.5" y="321.8" text-anchor="middle">10.8</text>
<text x="104.3" y="305.35" text-anchor="end">0</text>
<text x="104.3" y="188.68" text-anchor="end">0.0002</text>
<text x="104.3" y="72.02" text-anchor="end">0.0004</text>
<text x="158.9" y="47.2">SU(4),<tspan dx="6.8">N</tspan><tspan font-size="12.8" dy="5.2">t</tspan><tspan dy="-5.2" dx="0.4">=6</tspan></text>
<text x="293.6" y="347" text-anchor="middle" font-family="Liberation Serif, serif">β</text>
<g transform="translate(21,183.3) rotate(-90)"><text x="0" y="0"><tspan font-family="Liberation Serif, serif">χ</tspan><tspan font-size="12.8" dx="1.3" dy="5.3">L</tspan><tspan dy="-5.3" dx="0.4">/</tspan><tspan dx="0.3">N</tspan><tspan font-size="12.8" dx="0.4" dy="-9.9">3</tspan><tspan font-size="12.8" dx="-7.1" dy="14.3">s</tspan></text></g>
<text x="392.5" y="55.1" text-anchor="end">18</text>
<text x="392.5" y="71.8" text-anchor="end">20</text>
<text x="392.5" y="88.5" text-anchor="end">22</text>
<text x="392.5" y="105.2" text-anchor="end">24</text>
<text x="392.5" y="38.2" text-anchor="end">N<tspan font-size="12.8" dy="5" dx="0.6">s</tspan><tspan dy="-5" dx="0.6">=16</tspan></text>
</g>
</svg>
</body></html>
